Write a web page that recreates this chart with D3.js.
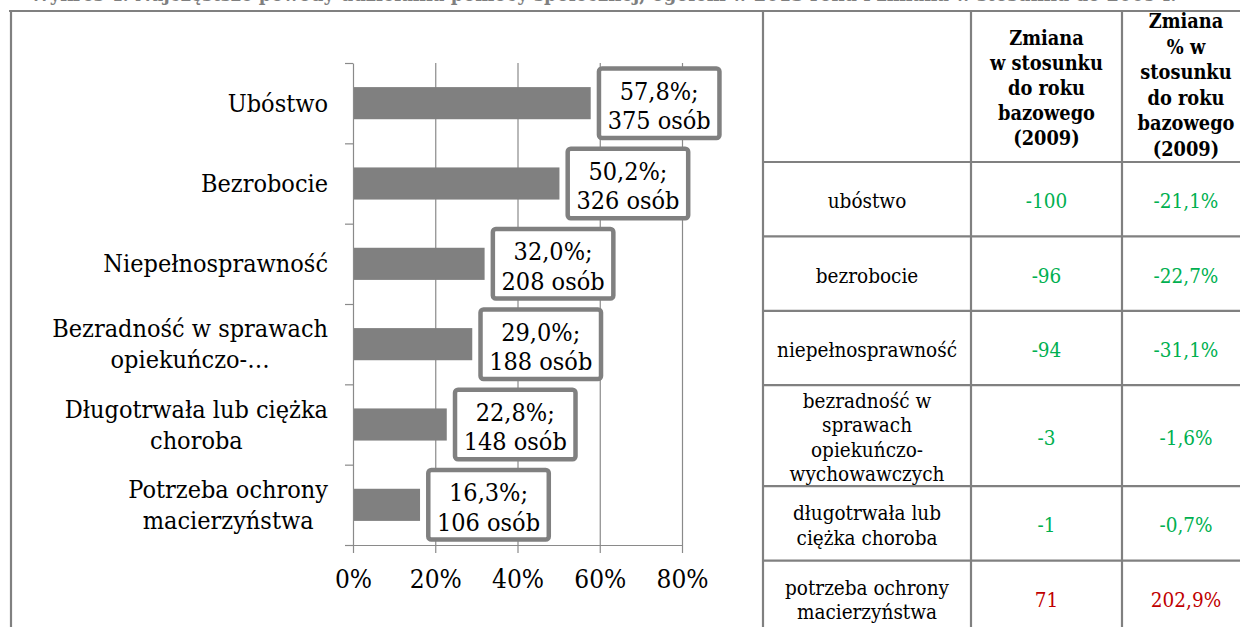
<!DOCTYPE html>
<html>
<head>
<meta charset="utf-8">
<script src="https://cdn.jsdelivr.net/npm/d3@7/dist/d3.min.js"></script>
<style>
  html, body { margin: 0; padding: 0; background: #fff; }
  svg { display: block; }
</style>
</head>
<body>
<svg id="c" width="1240" height="627"></svg>
<script>
// ---------------- DATA ----------------
const titleText = "Wykres 4. Najczęstsze powody udzielania pomocy społecznej, ogółem w 2013 roku i zmiana w stosunku do 2009 r.";
const categories = ["Ubóstwo", "Bezrobocie", "Niepełnosprawność", "Bezradność w sprawach opiekuńczo-…", "Długotrwała lub ciężka choroba", "Potrzeba ochrony macierzyństwa"];
const categoryLines = [["Ubóstwo"], ["Bezrobocie"], ["Niepełnosprawność"], ["Bezradność w sprawach", "opiekuńczo-…"], ["Długotrwała lub ciężka", "choroba"], ["Potrzeba ochrony", "macierzyństwa"]];
const percentValues = [57.8, 50.2, 32.0, 29.0, 22.8, 16.3];
const personValues = [375, 326, 208, 188, 148, 106];
const xTicks = [0, 20, 40, 60, 80];

const tableHeader2 = ["Zmiana", "w stosunku", "do roku", "bazowego", "(2009)"];
const tableHeader3 = ["Zmiana", "% w", "stosunku", "do roku", "bazowego", "(2009)"];
const tableRowLines = [["ubóstwo"], ["bezrobocie"], ["niepełnosprawność"], ["bezradność w", "sprawach", "opiekuńczo-", "wychowawczych"], ["długotrwała lub", "ciężka choroba"], ["potrzeba ochrony", "macierzyństwa"]];
const changeAbs = [-100, -96, -94, -3, -1, 71];
const changePct = [-21.1, -22.7, -31.1, -1.6, -0.7, 202.9];

// ---------------- STYLE ----------------
const FONT = "'DejaVu Serif Condensed', 'DejaVu Serif', serif";
const GREY = "#808080";
const svg = d3.select("#c");

const plLocale = d3.formatLocale({ decimal: ",", thousands: " ", grouping: [3], currency: ["", " zł"], minus: "-" });
const plFmt = plLocale.format(".1f");
const intFmt = plLocale.format("d");

// title (cut off at the top, as in the source page)
svg.append("text").attr("x", 30).attr("y", 1)
  .attr("font-family", FONT).attr("font-weight", "bold").attr("font-size", 20)
  .attr("fill", "#7f7f7f").text(titleText);

// ---------------- CHART ----------------
const x = d3.scaleLinear().domain([0, 80]).range([353, 682]);
const y = d3.scaleBand().domain(categories).range([63, 545]).paddingInner(0.6).paddingOuter(0.3);
const yIdx = d3.scaleLinear().domain([0, categories.length]).range([63, 545]);

// gridlines
const grid = svg.append("g").attr("transform", "translate(0,545)")
  .call(d3.axisBottom(x).tickValues(xTicks.slice(1)).tickSize(-(545 - 63)).tickFormat(""));
grid.select(".domain").remove();
grid.selectAll("line").attr("stroke", "#8a8a8a").attr("stroke-width", 1.2);

// bars
svg.append("g").selectAll("rect").data(categories).join("rect")
  .attr("x", x(0)).attr("y", d => y(d))
  .attr("width", (d, i) => x(percentValues[i]) - x(0))
  .attr("height", y.bandwidth())
  .attr("fill", GREY);

// y axis (ticks between categories)
const yAx = svg.append("g").attr("transform", `translate(${x(0)},0)`)
  .call(d3.axisLeft(yIdx).ticks(categories.length).tickSize(8).tickSizeOuter(0).tickFormat(""));
yAx.selectAll("line, path").attr("stroke", "#8a8a8a").attr("stroke-width", 1.2);

// x axis
const xAx = svg.append("g").attr("transform", "translate(0,545)")
  .call(d3.axisBottom(x).tickValues(xTicks).tickSize(8).tickSizeOuter(0).tickFormat(d => d + "%"));
xAx.selectAll("line, path").attr("stroke", "#8a8a8a").attr("stroke-width", 1.2);
xAx.selectAll("text").attr("y", 43).attr("dy", null)
  .attr("font-family", FONT).attr("font-size", 26).attr("fill", "#000");

// category labels
const catG = svg.append("g");
categories.forEach((c, i) => {
  const lines = categoryLines[i];
  const cy = y(c) + y.bandwidth() / 2;
  const t = catG.append("text").attr("font-family", FONT).attr("font-size", 25).attr("fill", "#000");
  lines.forEach((ln, j) => {
    t.append("tspan").attr("x", 0).attr("y", cy + 8.6 + (j - (lines.length - 1) / 2) * 31).text(ln);
  });
  // block right-aligned at 328, lines centered within block
  const tsp = t.selectAll("tspan").nodes();
  const widths = tsp.map(n => n.getComputedTextLength());
  const bw = d3.max(widths);
  tsp.forEach((n, j) => d3.select(n).attr("x", 328 - bw + (bw - widths[j]) / 2));
});

// data labels
const lblG = svg.append("g");
const boxW = 125, boxH = 74, sw = 4.5;
categories.forEach((c, i) => {
  const cy = y(c) + y.bandwidth() / 2;
  const bx = x(percentValues[i]) + 6;
  lblG.append("rect")
    .attr("x", bx + sw / 2).attr("y", cy - boxH / 2 + sw / 2)
    .attr("width", boxW - sw).attr("height", boxH - sw)
    .attr("rx", 3).attr("fill", "#fff").attr("stroke", GREY).attr("stroke-width", sw);
  const t = lblG.append("text").attr("font-family", FONT).attr("font-size", 25)
    .attr("fill", "#000").attr("text-anchor", "middle");
  t.append("tspan").attr("x", bx + boxW / 2).attr("y", cy - 3.5).text(plFmt(percentValues[i]) + "%;");
  t.append("tspan").attr("x", bx + boxW / 2).attr("y", cy + 25.8).text(personValues[i] + " osób");
});

// ---------------- TABLE ----------------
const colX = [763, 971, 1122, 1250];
const headerTop = 11, headerBottom = 162;
const rowTops = [headerBottom];
tableRowLines.forEach(l => rowTops.push(rowTops[rowTops.length - 1] + (l.length > 2 ? 101 : 74.4)));

const tg = svg.append("g");
const colCenter = k => (colX[k] + colX[k + 1]) / 2;
function headerCol(lines, k, center, spacing) {
  const t = tg.append("text").attr("font-family", FONT).attr("font-weight", "bold")
    .attr("font-size", 19.8).attr("fill", "#000").attr("text-anchor", "middle");
  lines.forEach((ln, j) => t.append("tspan").attr("x", colCenter(k))
    .attr("y", center + 9 + (j - (lines.length - 1) / 2) * spacing).text(ln));
}
headerCol(tableHeader2, 1, 86, 25);
headerCol(tableHeader3, 2, 83, 25.5);

tableRowLines.forEach((lines, i) => {
  const cy = (rowTops[i] + rowTops[i + 1]) / 2;
  const t = tg.append("text").attr("font-family", FONT).attr("font-size", 20.5)
    .attr("fill", "#000").attr("text-anchor", "middle");
  lines.forEach((ln, j) => t.append("tspan").attr("x", colCenter(0))
    .attr("y", cy + 9 + (j - (lines.length - 1) / 2) * 24.5).text(ln));
  const col = changeAbs[i] > 0 ? "#C00000" : "#00B050";
  tg.append("text").attr("font-family", FONT).attr("font-size", 20.5).attr("fill", col)
    .attr("text-anchor", "middle").attr("x", colCenter(1)).attr("y", cy + 9).text(intFmt(changeAbs[i]));
  tg.append("text").attr("font-family", FONT).attr("font-size", 20.5).attr("fill", col)
    .attr("text-anchor", "middle").attr("x", colCenter(2)).attr("y", cy + 9).text(plFmt(changePct[i]) + "%");
});

// grid lines of the layout table
const lg = svg.append("g").attr("stroke", GREY).attr("stroke-width", 2.2).attr("fill", "none");
lg.append("line").attr("x1", 9).attr("x2", 1240).attr("y1", headerTop).attr("y2", headerTop);
lg.append("line").attr("x1", 11).attr("x2", 11).attr("y1", headerTop).attr("y2", 627);
colX.slice(0, 3).forEach(cx => lg.append("line").attr("x1", cx).attr("x2", cx).attr("y1", headerTop).attr("y2", 627));
rowTops.forEach(ry => lg.append("line").attr("x1", colX[0]).attr("x2", 1240).attr("y1", ry).attr("y2", ry));
</script>
</body>
</html>
